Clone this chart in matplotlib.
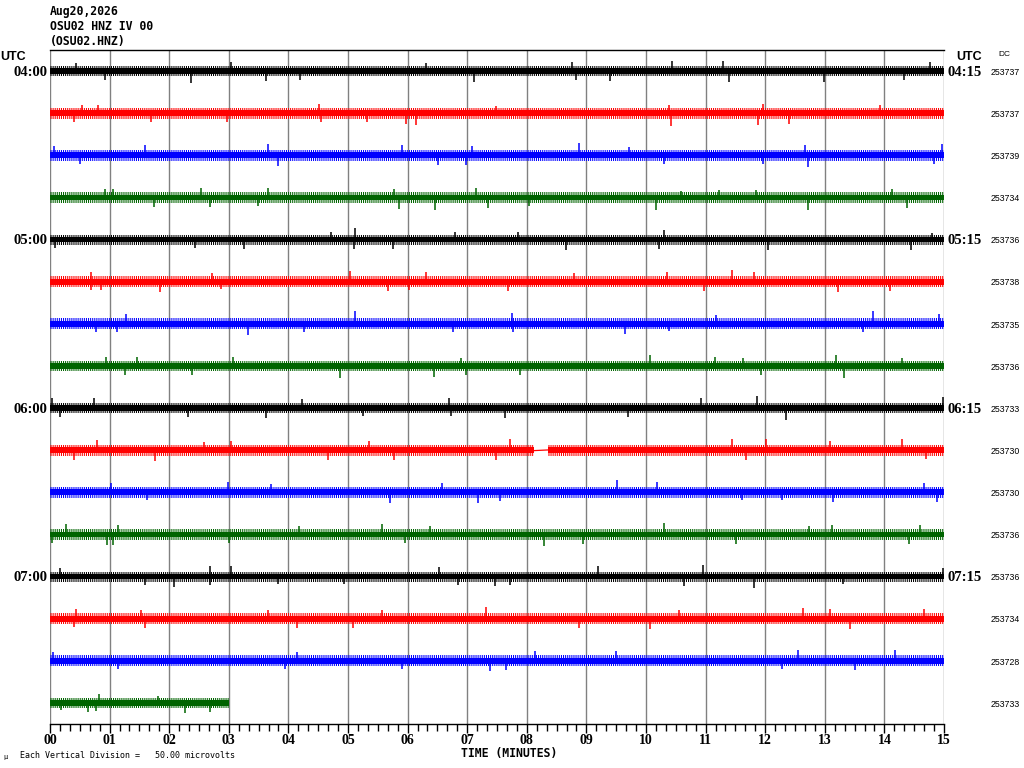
import matplotlib
matplotlib.use("Agg")
import matplotlib.pyplot as plt
import matplotlib.transforms as mtransforms
import numpy as np

# ---------------- data read from the helicorder ----------------
STATION_LINES = ["Aug20,2026", "OSU02 HNZ IV 00", "(OSU02.HNZ)"]
MINUTE_LABELS = ["00", "01", "02", "03", "04", "05", "06", "07",
                 "08", "09", "10", "11", "12", "13", "14", "15"]
LEFT_HOURS = ["04:00", "05:00", "06:00", "07:00"]
RIGHT_HOURS = ["04:15", "05:15", "06:15", "07:15"]
DC_VALUES = [253737, 253737, 253739, 253734, 253736, 253738, 253735, 253736,
             253733, 253730, 253730, 253736, 253736, 253734, 253728, 253733]
TRACE_COLORS = ["#000000", "#ff0000", "#0000ff", "#006400"]
UV_PER_DIVISION = 50.0
SCALE_TEXT = "Each Vertical Division =   50.00 microvolts"

# length of each line (minutes of data)
TRACE_MINUTES = [15, 15, 15, 15, 15, 15, 15, 15, 15, 15, 15, 15, 15, 15, 15, 3]
# dense core half-width and typical outer extent of each trace (microvolts)
CORE_HALF_WIDTH = [3.2, 3.4, 3.5, 3.4, 3.2, 3.4, 3.5, 3.4,
                   3.2, 3.4, 3.5, 3.4, 3.2, 3.4, 3.5, 3.4]
OUTER_HALF_WIDTH = [6.0, 6.4, 6.5, 6.3, 6.0, 6.4, 6.5, 6.3,
                    6.0, 6.4, 6.5, 6.3, 6.0, 6.4, 6.5, 6.2]

# prominent excursions of each trace: (minute, microvolts from trace centre)
T00_SPIKES = [(0.44, 9.1), (0.93, -11.0), (2.36, -13.9), (3.03, 10.7), (3.63, -11.5),
              (4.19, -11.0), (6.31, 10.0), (7.11, -12.7), (8.76, 10.7), (8.83, -10.7),
              (9.39, -11.9), (10.44, 11.9), (11.30, 11.9), (11.40, -12.7), (12.99, -12.7),
              (14.33, -10.7), (14.77, 10.7)]
T01_SPIKES = [(0.41, -11.0), (0.53, 9.5), (0.80, 10.3), (1.69, -11.0), (2.97, -11.0),
              (4.52, 10.7), (4.55, -11.0), (5.32, -11.0), (5.98, -13.0), (6.14, -13.9),
              (7.49, 8.7), (10.38, 9.9), (10.42, -15.8), (11.88, -13.9), (11.96, 10.7),
              (12.40, -12.3), (13.92, 9.5)]
T02_SPIKES = [(0.07, 10.7), (0.51, -10.3), (1.60, 11.9), (3.65, 13.9), (3.82, -12.7),
              (5.90, 11.9), (6.51, -11.9), (6.98, -11.9), (7.08, 10.7), (8.88, 14.3),
              (9.72, 10.3), (10.31, -10.7), (11.96, -10.7), (12.66, 11.9), (12.71, -13.5),
              (14.84, -10.7), (14.97, 13.1)]
T03_SPIKES = [(0.92, 9.9), (1.05, 10.3), (1.74, -11.5), (2.53, 11.1), (2.69, -11.9),
              (3.49, -10.7), (3.66, 11.1), (5.78, 10.3), (5.86, -13.5), (6.46, -14.7),
              (7.15, 11.1), (7.35, -12.7), (8.04, -9.9), (10.17, -14.7), (10.58, 7.9),
              (11.22, 8.7), (11.85, 9.1), (12.71, -14.7), (14.13, 9.9), (14.38, -13.1)]
T04_SPIKES = [(0.09, -10.3), (2.43, -9.9), (3.26, -11.1), (4.72, 9.5), (5.10, -11.1),
              (5.11, 13.5), (5.75, -11.1), (6.80, 9.5), (7.86, 9.1), (8.66, -12.7),
              (10.21, -11.1), (10.30, 11.1), (12.04, -12.7), (14.44, -11.9), (14.80, 7.9)]
T05_SPIKES = [(0.68, -9.9), (0.69, 11.9), (0.86, -9.9), (1.84, -11.9), (2.71, 10.7),
              (2.87, -9.1), (5.04, 12.7), (5.67, -10.7), (6.03, -9.9), (6.31, 11.9),
              (7.68, -10.7), (8.80, 10.3), (10.36, 11.1), (10.98, -11.5), (11.44, 13.9),
              (11.82, 11.1), (13.22, -11.9), (14.10, -10.7)]
T06_SPIKES = [(0.78, -9.9), (1.13, -9.9), (1.28, 11.1), (3.33, -12.7), (4.26, -9.9),
              (5.11, 15.0), (6.76, -9.9), (7.76, 12.7), (7.77, -9.9), (9.65, -11.9),
              (10.39, -9.1), (11.17, 9.9), (13.64, -9.9), (13.81, 15.0), (14.92, 11.1)]
T07_SPIKES = [(0.94, 10.7), (1.25, -11.1), (1.46, 10.7), (2.38, -11.1), (3.07, 10.7),
              (4.87, -13.9), (6.45, -13.1), (6.90, 9.5), (6.98, -11.1), (7.88, -11.1),
              (10.07, 12.7), (11.15, 10.7), (11.63, 9.9), (11.93, -10.3), (13.19, 12.7),
              (13.33, -13.9), (14.30, 9.9)]
T08_SPIKES = [(0.03, 11.9), (0.16, -10.7), (0.73, 11.9), (2.32, -10.7), (3.63, -11.9),
              (4.22, 10.7), (5.25, -9.9), (6.70, 11.9), (6.73, -9.9), (7.63, -11.9),
              (9.69, -10.7), (10.92, 11.9), (11.87, 14.7), (12.35, -14.7), (14.98, 13.1)]
T09_SPIKES = [(0.41, -11.1), (0.79, 11.9), (1.77, -12.7), (2.58, 9.9), (3.03, 10.7),
              (4.67, -11.1), (5.36, 10.7), (5.78, -11.1), (7.49, -11.9), (7.72, 12.7),
              (11.45, 12.7), (11.67, -11.9), (12.02, 12.7), (13.08, 10.7), (14.30, 12.7),
              (14.70, -9.9)]
T10_SPIKES = [(1.03, 10.7), (1.63, -9.1), (2.99, 11.9), (3.70, 9.5), (5.70, -12.3),
              (6.58, 10.7), (7.18, -12.3), (7.55, -9.9), (9.52, 14.7), (10.19, 11.9),
              (11.61, -9.1), (12.28, -8.7), (13.13, -11.1), (14.66, 10.7), (14.89, -11.1)]
T11_SPIKES = [(0.03, -9.9), (0.27, 11.9), (0.95, -12.7), (1.06, -12.7), (1.14, 11.1),
              (3.00, -9.9), (4.17, 9.9), (5.57, 11.9), (5.96, -9.9), (6.38, 9.9),
              (8.29, -13.9), (8.95, -11.5), (10.31, 13.9), (11.51, -11.5), (12.73, 10.3),
              (13.12, 11.1), (14.42, -11.5), (14.59, 11.1)]
T12_SPIKES = [(0.16, 9.9), (1.59, -9.9), (2.08, -11.9), (2.68, 12.7), (2.69, -9.9),
              (3.03, 12.7), (3.82, -9.1), (4.94, -9.1), (6.53, 11.5), (6.85, -9.9),
              (7.46, -11.1), (7.71, -9.9), (9.20, 12.7), (10.64, -11.1), (10.96, 13.9),
              (11.82, -13.9), (13.30, -9.1), (14.98, 9.9)]
T13_SPIKES = [(0.40, -9.9), (0.44, 11.1), (1.52, 10.3), (1.59, -10.7), (3.65, 9.9),
              (4.15, -11.5), (5.08, -11.5), (5.57, 9.9), (7.32, 13.9), (8.87, -11.5),
              (10.07, -11.9), (10.55, 10.3), (12.63, 13.1), (13.08, 11.1), (13.42, -12.7),
              (14.66, 11.1)]
T14_SPIKES = [(0.05, 10.7), (1.14, -9.9), (3.94, -9.9), (4.15, 10.7), (5.90, -9.9),
              (7.38, -11.9), (7.65, -11.1), (8.13, 11.9), (9.50, 11.9), (12.29, -9.9),
              (12.55, 13.1), (13.51, -11.1), (14.17, 13.1)]
T15_SPIKES = [(0.19, -8.7), (0.63, -10.7), (0.78, -9.9), (0.83, 10.7), (1.81, 8.7),
              (2.27, -11.9), (2.68, -11.1)]

# data dropout on the 06:15 red line (minutes), flat signal in between
T09_GAP = (8.12, 8.36)
T09_GAP_LEVEL = (-0.5, 0.3)

SPIKES = [T00_SPIKES, T01_SPIKES, T02_SPIKES, T03_SPIKES, T04_SPIKES, T05_SPIKES,
          T06_SPIKES, T07_SPIKES, T08_SPIKES, T09_SPIKES, T10_SPIKES, T11_SPIKES,
          T12_SPIKES, T13_SPIKES, T14_SPIKES, T15_SPIKES]
GAPS = {9: (T09_GAP, T09_GAP_LEVEL)}

# ---------------- figure ----------------
W, H = 1024, 768
plt.rcParams["hatch.linewidth"] = 0.75
fig = plt.figure(figsize=(W / 100, H / 100), dpi=100)
fig.patch.set_facecolor("white")
ax = fig.add_axes([50 / W, (H - 724) / H, 894 / W, 674 / H])

n_rows = len(SPIKES)
ax.set_xlim(0, 15)
ax.set_ylim(-(n_rows - 0.5) * UV_PER_DIVISION, 0.5 * UV_PER_DIVISION)


def draw_band(x0, x1, base, core, outer, color):
    ax.fill_between([x0, x1], [base - outer] * 2, [base + outer] * 2,
                    facecolor="none", edgecolor=color, hatch="||||||||",
                    linewidth=0, zorder=3)
    ax.fill_between([x0, x1], [base - core] * 2, [base + core] * 2,
                    color=color, linewidth=0, zorder=3)


for i, spikes in enumerate(SPIKES):
    base = -i * UV_PER_DIVISION
    color = TRACE_COLORS[i % len(TRACE_COLORS)]
    core = CORE_HALF_WIDTH[i]
    outer = OUTER_HALF_WIDTH[i]
    end = TRACE_MINUTES[i]
    if i in GAPS:
        (g0, g1), (l0, l1) = GAPS[i]
        draw_band(0, g0, base, core, outer, color)
        draw_band(g1, end, base, core, outer, color)
        ax.plot([g0, g1], [base + l0, base + l1], color=color, lw=0.9, zorder=3)
    else:
        draw_band(0, end, base, core, outer, color)
    ts = [s[0] for s in spikes]
    amps = [s[1] for s in spikes]
    ax.vlines(ts, [base] * len(ts), [base + a for a in amps], colors=color,
              linewidth=1.1, zorder=3)

# grid / spines / ticks
ax.set_xticks(range(16))
ax.set_xticks(np.arange(0, 15 + 1e-9, 1 / 6), minor=True)
ax.set_xticklabels(MINUTE_LABELS)
ax.set_yticks([])
ax.xaxis.grid(True, which="major", color="#808080", linewidth=1.0, zorder=1)
ax.set_axisbelow(True)
for side in ("left", "right"):
    ax.spines[side].set_visible(False)
for side in ("top", "bottom"):
    ax.spines[side].set_color("black")
    ax.spines[side].set_linewidth(1.0)
ax.tick_params(axis="x", which="major", direction="out", length=6.5, width=1.0,
               color="black", pad=0.5, labelsize=10)
ax.tick_params(axis="x", which="minor", direction="out", length=5, width=1.0,
               color="black")
for lab in ax.get_xticklabels():
    lab.set_fontfamily("Liberation Serif")
    lab.set_fontweight("bold")

# hour labels and DC offsets
trans_left = mtransforms.blended_transform_factory(ax.transAxes, ax.transData)
serif_bold = dict(family="Liberation Serif", weight="bold", size=10.5)
for k, lab in enumerate(LEFT_HOURS):
    yrow = -(4 * k) * UV_PER_DIVISION
    ax.text(-0.003, yrow - 1.5, lab, transform=trans_left, ha="right", va="center",
            **serif_bold)
for k, lab in enumerate(RIGHT_HOURS):
    yrow = -(4 * k) * UV_PER_DIVISION
    ax.text(1.004, yrow - 1.5, lab, transform=trans_left, ha="left", va="center",
            **serif_bold)

trans_fig_data = mtransforms.blended_transform_factory(fig.transFigure, ax.transData)
for i, dc in enumerate(DC_VALUES):
    yrow = -i * UV_PER_DIVISION
    ax.text(1005 / W, yrow - 1.5, str(dc), transform=trans_fig_data, ha="center",
            va="center", family="Liberation Sans", size=6.3, clip_on=False)

sans_bold = dict(family="Liberation Sans", weight="bold", size=9)
fig.text(0 / W, 1 - 57 / H, "UTC", ha="left", va="center", **sans_bold)
fig.text(969 / W, 1 - 57 / H, "UTC", ha="center", va="center", **sans_bold)
fig.text(1004 / W, 1 - 54 / H, "DC", ha="center", va="center",
         family="Liberation Sans", size=6)

# header
mono_bold = dict(family="DejaVu Sans Mono", weight="bold", size=8.3)
for k, line in enumerate(STATION_LINES):
    fig.text(50 / W, 1 - (12 + 15 * k) / H, line, ha="left", va="center", **mono_bold)

fig.text(509 / W, 1 - 753 / H, "TIME (MINUTES)", ha="center", va="center", **mono_bold)
fig.text(20 / W, 1 - 755 / H, SCALE_TEXT, ha="left", va="center",
         family="DejaVu Sans Mono", size=6)
fig.text(3 / W, 1 - 757 / H, "\u00b5", ha="left", va="center",
         family="DejaVu Sans Mono", size=5)

fig.savefig("out.png", dpi=100, facecolor="white")
